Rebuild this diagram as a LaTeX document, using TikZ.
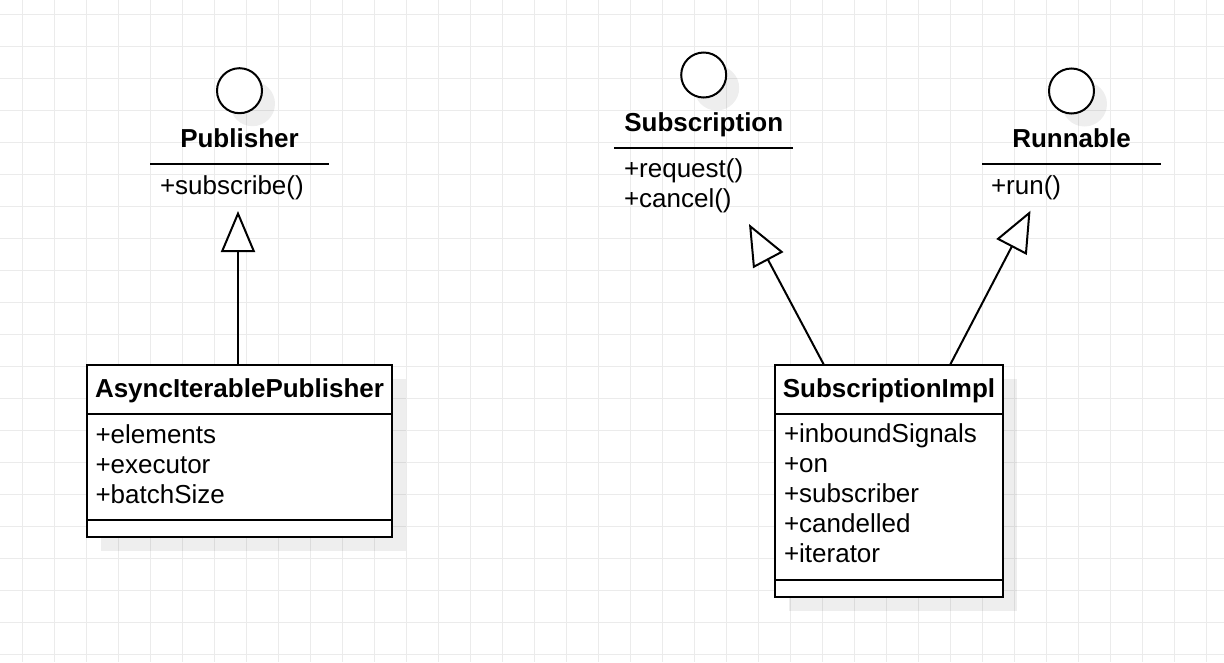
\documentclass[tikz,border=0pt]{standalone}
\usepackage{fontspec}
\setmainfont{Liberation Sans}
\usetikzlibrary{arrows.meta,shadows}
\definecolor{gridc}{HTML}{EBEBEB}
\begin{document}
\begin{tikzpicture}[x=1pt,y=-1pt,
  every node/.style={font=\fontsize{26}{30}\selectfont, inner sep=0pt, outer sep=0pt},
  gridline/.style={draw=gridc, line width=1pt},
  umlbox/.style={draw=black, line width=2pt, fill=white, rectangle,
    drop shadow={shadow xshift=14pt, shadow yshift=-14pt, fill=black, opacity=0.065}},
  iface/.style={circle, draw=black, line width=2pt, fill=white, minimum size=45pt,
    drop shadow={shadow xshift=13pt, shadow yshift=-13pt, fill=black, opacity=0.065}},
  title/.style={font=\fontsize{26}{30}\selectfont\bfseries, anchor=base},
  attr/.style={anchor=base west},
  sep/.style={line width=2pt},
  inh/.style={line width=2pt, -{Triangle[length=41pt, width=34pt, fill=white]}},
]
\useasboundingbox (0,0) rectangle (1224,662);
\fill[white] (0,0) rectangle (1224,662);
% grid
\foreach \k in {0,...,37} {\draw[gridline] (22.5+32*\k,0) -- (22.5+32*\k,662);}
\foreach \k in {0,...,20} {\draw[gridline] (0,14.5+32*\k) -- (1224,14.5+32*\k);}

% Publisher interface
\node[iface] (pubc) at (239.5,90.7) {};
\node[title] (pubt) at (239.5,147.5) {Publisher};
\draw[sep] (150,164) -- (329,164);
\node[attr] (pubm) at (160,194) {+subscribe()};

% Subscription interface
\node[iface] (subc) at (703.7,75) {};
\node[title] (subt) at (703.8,131.5) {Subscription};
\draw[sep] (614,148.3) -- (793,148.3);
\node[attr] (subm1) at (624,177.7) {+request()};
\node[attr] (subm2) at (624,207.7) {+cancel()};

% Runnable interface
\node[iface] (runc) at (1071.5,91) {};
\node[title] (runt) at (1071.5,147.5) {Runnable};
\draw[sep] (982,164) -- (1161,164);
\node[attr] (runm) at (991,194) {+run()};

% AsyncIterablePublisher class
\node[umlbox, minimum width=305pt, minimum height=172pt] (aip) at (239.5,451) {};
\node[title] (aipt) at (239.5,397.5) {AsyncIterablePublisher};
\draw[sep] (87,414) -- (392,414);
\draw[sep] (87,520) -- (392,520);
\node[attr] (aipa1) at (95.5,443.5) {+elements};
\node[attr] (aipa2) at (95.5,473.5) {+executor};
\node[attr] (aipa3) at (95.5,503) {+batchSize};

% SubscriptionImpl class
\node[umlbox, minimum width=228pt, minimum height=232pt] (simpl) at (889,481) {};
\node[title] (simplt) at (889,397) {SubscriptionImpl};
\draw[sep] (775,413.5) -- (1003,413.5);
\draw[sep] (775,580) -- (1003,580);
\node[attr] (sa1) at (784,442.7) {+inboundSignals};
\node[attr] (sa2) at (784,472.7) {+on};
\node[attr] (sa3) at (784,502.7) {+subscriber};
\node[attr] (sa4) at (784,532.7) {+candelled};
\node[attr] (sa5) at (784,562.7) {+iterator};

% inheritance arrows
\coordinate (pubtip) at (238,211);
\coordinate (subtip) at (749,224);
\coordinate (runtip) at (1030.5,210.7);
\draw[inh] (aip.north -| pubtip) -- (pubtip);
\draw[inh] ([xshift=-65pt]simpl.north) -- (subtip);
\draw[inh] ([xshift=61pt]simpl.north) -- (runtip);
\end{tikzpicture}
\end{document}
